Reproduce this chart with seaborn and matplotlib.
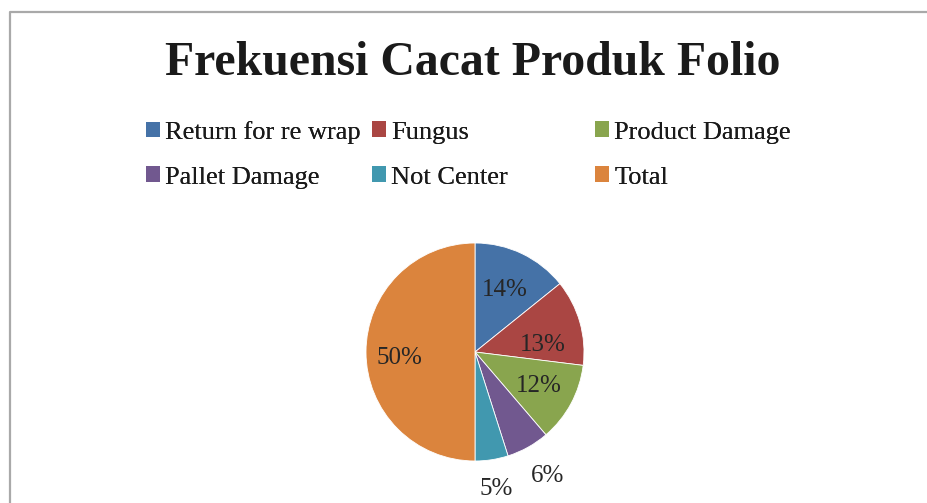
import matplotlib
matplotlib.use("Agg")
import matplotlib.pyplot as plt
import seaborn as sns
import numpy as np
from matplotlib.lines import Line2D
from matplotlib.patches import Patch

categories = ["Return for re wrap", "Fungus", "Product Damage", "Pallet Damage", "Not Center", "Total"]
counts = [29, 26, 24, 13, 10, 102]
colors = ["#4572A7", "#AA4643", "#89A54E", "#71588F", "#4198AF", "#DB843D"]
title = "Frekuensi Cacat Produk Folio"

sns.set_theme(style="white")
plt.rcParams['font.family'] = ['Liberation Serif', 'DejaVu Serif']

W, H = 927, 503
fig = plt.figure(figsize=(W / 100, H / 100), dpi=100)
fig.patch.set_facecolor("white")

# outer chart border (left and top edges visible, rest cropped)
bx, by = 9.5, 11.5
fig.add_artist(Line2D([bx / W, bx / W, 1.01], [-0.01, 1 - by / H, 1 - by / H],
                      transform=fig.transFigure, color="#a9a9a9", linewidth=1.6))

fig.text(472.5 / W, 1 - 63 / H, title, ha="center", va="center", fontsize=34.4, fontweight="bold",
         color="#1a1a1a")

cx, cy, r = 475, 352, 109
ax = fig.add_axes([(cx - r) / W, (H - cy - r) / H, 2 * r / W, 2 * r / H])
pal = sns.color_palette(colors)
wedges, _ = ax.pie(counts, colors=pal, startangle=90, counterclock=False, radius=1,
                   wedgeprops=dict(edgecolor="white", linewidth=0.6))
ax.set_xlim(-1, 1)
ax.set_ylim(-1, 1)
ax.set_axis_off()

total = sum(counts)
label_dist = [0.665, 0.63, 0.65, 1.29, 1.24, 0.69]
label_shift_cw = [-1, 7, -2.5, -2, 0, -2]  # clockwise offset of label angle, degrees
ydrop = 3.5 / r
for w, c, d, s in zip(wedges, counts, label_dist, label_shift_cw):
    ang = np.deg2rad((w.theta1 + w.theta2) / 2 - s)
    pct = 100 * c / total
    ax.text(d * np.cos(ang), d * np.sin(ang) - ydrop, f"{pct:.0f}%", ha="center", va="center",
            fontsize=18, color="#262626")

# legend: 3 columns x 2 rows, row-major order
col_x = [146, 372, 595]
row_y = [132.5, 177.5]
for i, (cat, col) in enumerate(zip(categories, pal)):
    rr, cc = divmod(i, 3)
    leg = fig.legend([Patch(facecolor=col, edgecolor="none")], [cat], loc="center left",
                     bbox_to_anchor=(col_x[cc] / W, 1 - row_y[rr] / H), frameon=False, fontsize=19,
                     handlelength=0.53, handleheight=0.53, handletextpad=0.2,
                     borderaxespad=0, borderpad=0)
    leg.get_texts()[0].set_color("#1a1a1a")
    fig.add_artist(leg)

fig.savefig("out.png", dpi=100)
